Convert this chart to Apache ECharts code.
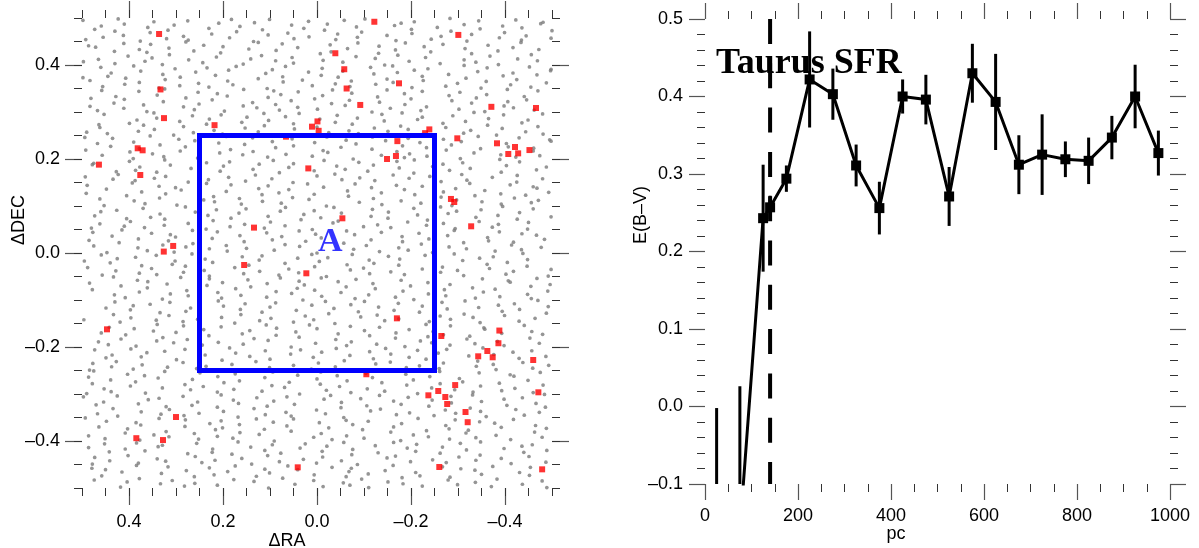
<!DOCTYPE html>
<html>
<head>
<meta charset="utf-8">
<script src="https://cdn.jsdelivr.net/npm/echarts@6/dist/echarts.min.js"></script>
<style>
  html, body { margin: 0; padding: 0; background: #fff; }
  #chart { width: 1199px; height: 548px; }
</style>
</head>
<body>
<div id="chart"></div>
<script>
// Field stars around the cloud: flattened (ΔRA, ΔDEC) pairs, in units of 0.001 deg
const fieldStars = [
  -500,473,-498,457,-481,491,-476,488,-445,462,-436,479,-435,453,-423,496,-399,469,-395,483,-388,458,-347,477,-344,494,-329,465,-319,451,-313,486,-285,472,-283,499,-264,461,-256,480,-243,455,-207,492,-202,467,-201,476,-179,489,-168,452,-165,484,-149,463,-102,498,-95,470,-86,459,-84,481,-58,495,-44,466,-40,454,-22,487,-16,474,17,460,18,493,28,478,49,456,54,485,62,468,101,497,104,464,116,475,133,490,135,450,164,482,171,471,182,497,186,458,209,489,224,466,230,478,274,453,275,494,284,461,304,485,317,474,320,456,347,492,355,469,360,480,376,451,410,487,412,463,423,498,430,472,455,459,459,483,473,476,492,454,498,495,
  362,427,354,444,351,415,329,401,315,436,314,422,279,449,273,411,262,430,243,405,241,442,214,417,205,426,200,439,157,402,145,434,141,413,125,448,118,420,88,409,87,431,74,445,53,416,50,404,41,437,-7,424,-13,410,-28,443,-30,428,-55,406,-65,435,-83,418,-87,447,-124,414,-131,425,-132,440,-144,400,-167,432,-172,421,-188,447,-196,408,-228,439,-231,416,-242,428,-262,403,-268,444,-313,411,-315,435,-329,424,-338,406,-364,442,-368,419,-385,430,-386,401,-417,437,-427,413,-434,448,-456,422,-469,409,-472,433,497,407,486,441,471,438,465,412,431,429,430,403,411,446,402,419,378,433,366,408,
  -226,367,-224,376,-207,389,-202,352,-171,384,-162,363,-161,398,-149,370,-125,359,-121,381,-114,395,-73,366,-70,354,-55,387,-45,374,-39,360,-11,393,-9,378,10,356,18,385,31,368,67,397,72,364,73,375,95,390,106,350,109,382,125,371,172,397,179,358,188,389,190,366,216,378,230,353,234,394,252,361,258,385,291,374,292,356,302,392,323,369,328,380,336,351,375,387,378,363,390,398,407,372,409,359,438,383,445,376,456,354,460,395,483,367,498,373,-498,391,-497,388,-488,362,-468,379,-455,353,-452,396,-425,369,-417,383,-412,358,-396,377,-362,394,-360,365,-349,351,-342,386,-317,372,-313,399,-299,361,-280,380,-274,355,-236,392,
  88,316,80,304,77,337,55,324,41,310,40,343,5,328,-1,306,-12,335,-31,318,-33,347,-60,314,-69,325,-74,340,-117,300,-129,332,-133,321,-149,347,-156,308,-186,339,-187,316,-200,328,-221,303,-224,344,-233,311,-281,335,-287,324,-302,306,-304,342,-329,319,-339,330,-357,301,-361,337,-398,313,-405,348,-406,322,-418,309,-441,333,-446,326,-462,304,-470,345,483,312,481,329,467,303,458,346,432,319,428,333,411,308,410,327,379,344,369,315,362,301,340,336,327,322,324,349,284,311,279,330,261,305,253,342,251,317,223,326,212,339,197,302,191,334,157,313,156,348,137,320,128,309,104,331,92,345,
  48,264,50,275,67,290,72,250,103,282,112,271,113,297,125,258,149,289,153,266,160,278,201,253,204,294,219,261,229,285,235,274,263,256,265,292,284,269,292,280,305,251,341,287,346,263,347,298,369,272,380,259,383,283,399,276,446,254,453,295,462,267,464,273,490,257,-481,253,-480,296,-470,269,-449,283,-444,258,-436,277,-397,294,-394,265,-382,251,-365,286,-363,272,-334,299,-327,261,-316,280,-312,255,-289,292,-274,267,-268,276,-224,289,-223,252,-214,284,-194,263,-181,298,-178,270,-151,259,-143,281,-138,295,-122,266,-88,254,-86,287,-75,274,-68,260,-43,293,-39,278,-25,256,-6,285,0,268,38,297,
  -186,203,-194,244,-197,211,-219,235,-233,224,-234,206,-269,242,-275,219,-286,230,-305,201,-307,237,-334,213,-343,248,-348,222,-391,209,-403,233,-407,226,-423,204,-430,245,-460,217,-461,223,-474,207,-495,241,-498,238,494,246,492,219,467,233,457,208,439,227,435,244,398,215,391,201,390,236,378,222,355,249,350,211,334,230,326,205,294,242,291,217,280,226,260,239,254,202,209,234,207,213,193,248,184,220,158,209,154,231,137,245,136,216,105,204,95,237,88,224,66,210,53,243,50,228,10,206,5,235,-13,218,-21,247,-23,214,-51,225,-62,240,-77,200,-83,232,-117,221,-118,247,-137,208,-146,239,-170,216,-182,228,
  322,163,324,198,341,172,346,159,377,183,386,176,387,154,399,195,423,167,427,173,434,157,475,191,478,188,493,162,-488,183,-480,158,-467,177,-431,194,-426,165,-425,151,-403,186,-392,172,-389,199,-373,161,-326,180,-319,155,-310,192,-308,167,-282,176,-268,189,-264,152,-246,184,-240,163,-207,198,-206,170,-196,159,-175,181,-170,195,-162,166,-123,154,-120,187,-108,174,-91,160,-89,193,-60,178,-53,156,-42,185,-38,168,-15,197,0,164,6,175,50,190,51,150,60,182,80,171,93,197,96,158,123,189,131,166,136,178,152,153,186,194,188,161,199,185,206,174,231,156,235,192,249,169,268,180,274,151,312,187,
  -460,141,-468,138,-471,112,-493,129,491,127,489,144,462,115,453,101,448,136,405,122,393,149,389,111,373,130,366,105,336,142,335,117,322,126,301,139,298,102,289,134,241,113,235,148,220,120,218,109,193,131,183,145,165,116,161,104,124,137,117,124,116,110,104,143,81,128,76,106,60,135,52,118,20,147,17,114,6,125,-14,140,-20,100,-65,132,-67,121,-81,147,-90,108,-116,139,-120,116,-137,128,-138,103,-169,144,-179,111,-186,135,-208,124,-221,106,-224,142,-264,119,-269,130,-287,101,-295,137,-297,113,-325,148,-336,122,-351,109,-357,133,-391,126,-392,104,-411,145,-420,117,-444,123,-456,107,
  -450,65,-448,51,-431,86,-426,72,-395,99,-386,61,-385,80,-373,55,-349,92,-345,67,-338,76,-297,89,-294,52,-279,84,-269,63,-263,98,-235,70,-233,59,-214,81,-206,95,-193,66,-157,54,-152,87,-151,74,-129,60,-118,93,-115,78,-99,56,-52,85,-45,68,-36,97,-34,64,-8,75,6,90,10,50,28,82,34,71,67,97,68,58,78,89,99,66,104,78,112,53,151,94,154,61,166,85,183,74,185,56,214,92,221,69,232,80,236,51,259,87,274,63,280,98,324,72,325,59,334,83,354,76,367,54,370,95,397,67,405,73,410,57,426,91,460,88,462,62,473,79,480,53,-498,77,-460,94,
  312,39,304,2,301,34,279,13,265,48,264,20,229,9,223,31,212,45,193,16,191,4,164,37,155,24,150,10,107,43,95,28,91,6,75,35,68,18,38,47,37,14,24,25,3,40,0,0,-9,32,-57,21,-63,47,-78,8,-80,39,-105,16,-115,28,-133,3,-137,44,-174,11,-181,35,-182,24,-194,6,-217,42,-222,19,-238,30,-246,1,-278,37,-281,13,-292,48,-312,22,-318,9,-363,33,-365,26,-379,4,-388,45,-414,17,-418,23,-435,7,-436,41,-467,38,-477,12,-484,29,485,27,477,44,475,15,447,1,436,36,421,22,415,49,381,11,380,30,361,5,352,42,328,17,316,26,
  -176,-13,-174,-26,-157,-40,-152,-7,-121,-22,-112,-44,-111,-15,-99,-32,-75,-3,-71,-36,-64,-25,-23,-10,-20,-50,-5,-18,5,-29,11,-3,39,-42,41,-11,60,-34,68,-22,81,-47,117,-6,122,-39,123,-15,145,-26,156,-44,159,-8,175,-31,222,-20,229,-49,238,-13,240,-37,266,-2,280,-28,284,-41,302,-17,308,-24,341,-46,342,-5,352,-33,373,-27,378,-43,386,-9,425,-12,428,-38,440,-21,457,-47,459,-4,488,-31,495,-17,-498,-35,-492,-49,-448,-14,-447,-28,-438,-1,-418,-39,-405,-20,-402,-45,-375,-8,-367,-33,-362,-24,-346,-11,-312,-48,-310,-16,-299,-37,-292,-2,-267,-30,-263,-41,-249,-19,-230,-5,-224,-34,-186,-46,
  38,-60,30,-100,27,-68,5,-79,-9,-53,-10,-92,-45,-61,-51,-84,-62,-72,-81,-97,-83,-56,-110,-89,-119,-65,-124,-76,-167,-94,-179,-58,-183,-81,-199,-70,-206,-99,-236,-63,-237,-87,-250,-52,-271,-78,-274,-91,-283,-67,-331,-74,-337,-96,-352,-55,-354,-83,-379,-77,-389,-93,-407,-59,-411,-62,-448,-88,-455,-71,-456,-97,-468,-54,-491,-81,-496,-67,484,-64,478,-78,433,-51,431,-89,417,-70,408,-95,382,-58,378,-83,361,-74,360,-61,329,-98,319,-66,312,-87,290,-52,277,-80,274,-91,234,-69,229,-55,211,-84,203,-96,201,-63,173,-76,162,-90,147,-57,141,-72,107,-94,106,-65,87,-82,78,-53,54,-86,42,-75,
  98,-139,100,-115,117,-126,122,-144,153,-108,162,-131,163,-120,175,-149,199,-113,203,-137,210,-102,251,-128,254,-141,269,-117,279,-124,285,-146,313,-105,315,-133,334,-127,342,-143,355,-109,391,-112,396,-138,397,-121,419,-147,430,-104,433,-131,449,-117,496,-142,-492,-114,-488,-128,-470,-101,-464,-139,-431,-120,-430,-145,-420,-108,-399,-133,-394,-124,-386,-111,-347,-148,-344,-116,-332,-137,-315,-102,-313,-130,-284,-141,-277,-119,-266,-105,-262,-134,-239,-146,-224,-113,-218,-126,-174,-140,-173,-107,-164,-122,-144,-144,-131,-115,-128,-132,-101,-103,-93,-136,-88,-125,-72,-110,-38,-150,-36,-118,-25,-129,-18,-103,7,-142,11,-111,25,-134,44,-122,50,-147,88,-106,
  -236,-178,-244,-191,-247,-167,-269,-174,-283,-196,-284,-155,-319,-183,-325,-177,-336,-193,-355,-159,-357,-162,-384,-188,-393,-171,-398,-197,-441,-154,-453,-181,-457,-167,-473,-192,-480,-173,465,-189,459,-170,444,-195,442,-158,417,-183,407,-174,389,-161,385,-198,348,-166,341,-187,340,-152,328,-180,305,-191,300,-169,284,-155,276,-184,244,-196,241,-163,230,-176,210,-190,204,-157,159,-172,157,-194,143,-165,134,-182,108,-153,104,-186,87,-175,86,-160,55,-200,45,-168,38,-179,16,-153,3,-192,0,-161,-40,-184,-45,-172,-63,-197,-71,-156,-73,-189,-101,-165,-112,-176,-127,-194,-133,-158,-167,-181,-168,-170,-187,-199,-196,-163,-220,-187,-232,-152,
  372,-238,374,-221,391,-247,396,-204,427,-231,436,-217,437,-242,449,-223,473,-206,477,-235,484,-249,-493,-239,-487,-220,-459,-245,-457,-208,-438,-233,-430,-224,-417,-211,-381,-248,-376,-216,-375,-237,-353,-202,-342,-230,-339,-241,-323,-219,-276,-205,-269,-234,-260,-246,-258,-213,-232,-226,-218,-240,-214,-207,-196,-222,-190,-244,-157,-215,-156,-232,-146,-203,-125,-236,-120,-225,-112,-210,-73,-250,-70,-218,-58,-229,-41,-203,-39,-242,-10,-211,-3,-234,8,-222,12,-247,35,-206,50,-239,56,-215,100,-226,101,-244,110,-208,130,-231,143,-220,146,-249,173,-213,181,-237,186,-202,202,-228,236,-241,238,-217,249,-224,256,-246,281,-205,285,-233,299,-227,318,-243,324,-209,362,-212,
  486,-264,478,-278,475,-251,453,-289,439,-270,438,-295,403,-258,397,-283,386,-274,367,-261,365,-298,338,-266,329,-287,324,-252,281,-280,269,-291,265,-269,249,-255,242,-284,212,-296,211,-263,198,-276,177,-290,174,-257,165,-272,117,-294,111,-265,96,-282,94,-253,69,-286,59,-275,41,-260,37,-300,0,-268,-7,-279,-8,-253,-20,-292,-43,-261,-48,-284,-64,-272,-72,-297,-104,-256,-107,-289,-118,-265,-138,-276,-144,-294,-189,-258,-191,-281,-205,-270,-214,-299,-240,-263,-244,-287,-261,-252,-262,-278,-293,-291,-303,-267,-310,-274,-332,-296,-345,-255,-348,-283,-388,-277,-393,-293,-411,-259,-419,-262,-421,-288,-449,-271,-460,-297,-475,-254,-481,-281,490,-299,
  -350,-316,-348,-337,-331,-302,-326,-330,-295,-341,-286,-319,-285,-305,-273,-334,-249,-346,-245,-313,-238,-326,-197,-340,-194,-307,-179,-322,-169,-344,-163,-315,-135,-332,-133,-303,-114,-336,-106,-325,-93,-310,-57,-350,-52,-318,-51,-329,-29,-303,-18,-342,-15,-311,1,-334,48,-322,55,-347,64,-306,66,-339,92,-315,106,-326,110,-344,128,-308,134,-331,167,-320,168,-349,178,-313,199,-337,204,-302,212,-328,251,-341,254,-317,266,-324,283,-346,285,-305,314,-333,321,-327,332,-343,336,-309,359,-312,374,-338,380,-321,424,-347,425,-304,434,-331,454,-317,467,-342,470,-323,497,-306,-486,-328,-484,-301,-473,-339,-466,-320,-441,-345,-437,-308,-423,-333,-404,-324,-398,-311,-360,-348,
  212,-390,204,-357,201,-372,179,-394,165,-365,164,-382,129,-353,123,-386,112,-375,93,-360,91,-400,64,-368,55,-379,50,-353,7,-392,-5,-361,-9,-384,-25,-372,-32,-397,-62,-356,-63,-389,-76,-365,-97,-376,-100,-394,-109,-358,-157,-381,-163,-370,-178,-399,-180,-363,-205,-387,-215,-352,-233,-378,-237,-391,-274,-367,-281,-374,-282,-396,-294,-355,-317,-383,-322,-377,-338,-393,-346,-359,-378,-362,-381,-388,-392,-371,-412,-397,-418,-354,-463,-381,-465,-367,-479,-392,-488,-373,493,-351,486,-389,464,-370,451,-395,448,-358,408,-383,403,-374,385,-361,377,-398,375,-366,347,-387,336,-352,321,-380,315,-391,281,-369,280,-355,261,-384,252,-396,228,-363,216,-376,
  -76,-418,-74,-429,-57,-403,-52,-442,-21,-411,-12,-434,-11,-422,1,-447,25,-406,29,-439,36,-415,77,-426,80,-444,95,-408,105,-431,111,-420,139,-449,141,-413,160,-437,168,-402,181,-428,217,-441,222,-417,223,-424,245,-446,256,-405,259,-433,275,-427,322,-443,329,-409,338,-412,340,-438,366,-421,380,-447,384,-404,402,-431,408,-417,441,-442,442,-423,452,-406,473,-435,478,-449,486,-414,-489,-420,-487,-445,-458,-408,-451,-433,-440,-424,-436,-411,-413,-448,-398,-416,-392,-437,-348,-402,-347,-430,-338,-441,-318,-419,-305,-405,-302,-434,-275,-446,-267,-413,-262,-426,-246,-440,-212,-407,-210,-422,-199,-444,-192,-415,-167,-432,-163,-403,-149,-436,-130,-425,-124,-410,-86,-450,
  -62,-476,-70,-494,-73,-458,-95,-481,-109,-470,-110,-499,-145,-463,-151,-487,-162,-452,-181,-478,-183,-491,-210,-467,-219,-474,-224,-496,-267,-455,-279,-483,-283,-477,-299,-493,-306,-459,-336,-462,-337,-488,-350,-471,-371,-497,-374,-454,-383,-481,-431,-467,-437,-492,-452,-473,-454,-456,-479,-485,-489,-499,479,-458,474,-483,458,-474,450,-461,418,-498,415,-466,404,-487,384,-452,378,-480,333,-491,331,-469,317,-455,308,-484,282,-496,278,-463,261,-476,260,-490,229,-457,219,-472,212,-494,190,-465,177,-482,174,-453,134,-486,129,-475,111,-460,103,-500,101,-468,73,-479,62,-453,47,-492,41,-461,7,-484,6,-472,-13,-497,-32,-456,-56,-489,-68,-465
];

// Reddened stars [ΔRA, ΔDEC] in deg
const redStars = [
  [0.336,0.466],[0.333,0.348],[0.3255,0.287],[0.218,0.272],[0.3815,0.2228],[0.371,0.2185],
  [0.464,0.188],[0.376,0.166],[0.134,0.054],[0.306,0.015],[0.326,0.003],[0.155,-0.0255],
  [0.066,0.2475],[-0.122,0.492],[-0.3007,0.464],[-0.039,0.425],[-0.058,0.391],[-0.063,0.350],
  [-0.1745,0.361],[-0.092,0.315],[-0.371,0.311],[-0.466,0.3085],[-0.001,0.280],[0.0106,0.2688],
  [-0.0035,0.260],[-0.239,0.263],[-0.230,0.255],[-0.2985,0.244],[-0.171,0.238],[-0.168,0.2064],
  [-0.149,0.200],[-0.383,0.2334],[-0.4213,0.2255],[-0.407,0.2106],[-0.428,0.212],[-0.452,0.219],
  [0.0185,0.180],[-0.285,0.115],[-0.292,0.1085],[-0.328,0.0568],[-0.054,0.0738],[0.0227,-0.0432],
  [0.4468,-0.1624],[0.300,-0.349],[0.3844,-0.394],[0.3277,-0.398],[0.041,-0.456],
  [-0.170,-0.139],[-0.2645,-0.1766],[-0.105,-0.258],[-0.388,-0.165],[-0.386,-0.192],
  [-0.3624,-0.2085],[-0.343,-0.2198],[-0.3738,-0.2219],[-0.460,-0.2277],[-0.471,-0.2964],
  [-0.294,-0.281],[-0.258,-0.2936],[-0.237,-0.3028],[-0.273,-0.3064],[-0.277,-0.3213],
  [-0.316,-0.3383],[-0.3206,-0.360],[-0.2602,-0.4553],[-0.479,-0.4603]
];

// Region A outline (deg) and its label anchor
const regionA = [[0.25,-0.25],[0.25,0.25],[-0.25,0.25],[-0.25,-0.25],[0.25,-0.25]];
const regionALabelAt = [-0.028, 0.024];
const offsetMajorTicks = [-0.4, -0.2, 0, 0.2, 0.4];

// Colour excess versus distance
const distPc = [25, 75, 125, 140, 175, 225, 275, 325, 375, 425, 475, 525, 575, 625, 675, 725, 775, 825, 875, 925, 975];
const ebv    = [-0.165, -0.16, 0.243, 0.257, 0.294, 0.422, 0.403, 0.311, 0.256, 0.400, 0.396, 0.271, 0.430, 0.393, 0.312, 0.325, 0.319, 0.317, 0.347, 0.400, 0.327];
const ebvErr = [0.163, 0.186, 0.069, 0.015, 0.017, 0.062, 0.033, 0.027, 0.034, 0.022, 0.032, 0.038, 0.038, 0.062, 0.038, 0.052, 0.023, 0.030, 0.028, 0.041, 0.029];
const taurusDistPc = 140;

const SANS = '"Liberation Sans", Arial, Helvetica, sans-serif';
const SERIF = '"Liberation Serif", "Times New Roman", serif';
const fmt1 = v => (Math.abs(v) < 1e-9 ? '0.0' : v.toFixed(1)).replace('-', '\u2013');

const fieldPairs = [];
for (let i = 0; i < fieldStars.length; i += 2) fieldPairs.push([fieldStars[i] / 1000, fieldStars[i + 1] / 1000]);

const majorTickStyle = { color: '#555', width: 1.2 };
const minorTickStyle = { color: '#333', width: 1 };
const labelStyle = { fontSize: 18, color: '#000', fontFamily: SANS };

// Offset axes of the sky map: a major-tick axis (optionally labelled) plus a minor-tick axis
function skyAxes(pos, labeled, inverse, margin) {
  const base = { gridIndex: 0, type: 'value', position: pos, min: -0.5, max: 0.5, inverse: inverse,
                 axisLine: { show: false, onZero: false }, splitLine: { show: false } };
  const major = Object.assign({}, base, {
    axisTick: { show: true, customValues: offsetMajorTicks, length: 17, lineStyle: majorTickStyle },
    axisLabel: labeled ? Object.assign({ show: true, customValues: offsetMajorTicks, formatter: fmt1, margin: margin }, labelStyle)
                       : { show: false }
  });
  const minor = Object.assign({}, base, {
    interval: 0.05,
    axisTick: { show: true, length: 8, lineStyle: minorTickStyle },
    axisLabel: { show: false }
  });
  return [major, minor];
}

function pcAxis(pos, labeled) {
  return { gridIndex: 1, type: 'value', position: pos, min: 0, max: 1000, interval: 200,
    axisLine: { show: false, onZero: false }, splitLine: { show: false },
    axisTick: { show: true, length: 16, lineStyle: majorTickStyle },
    minorTick: { show: true, splitNumber: 4, length: 8, lineStyle: minorTickStyle },
    axisLabel: labeled ? Object.assign({ show: true, margin: 23, formatter: v => String(v),
                                         showMinLabel: true, showMaxLabel: true }, labelStyle) : { show: false } };
}
function ebvAxis(pos, labeled) {
  return { gridIndex: 1, type: 'value', position: pos, min: -0.1, max: 0.5, interval: 0.1,
    axisLine: { show: false, onZero: false }, splitLine: { show: false },
    axisTick: { show: true, length: 16, lineStyle: majorTickStyle },
    minorTick: { show: true, splitNumber: 5, length: 8, lineStyle: minorTickStyle },
    axisLabel: labeled ? Object.assign({ show: true, margin: 22, formatter: fmt1, showMinLabel: true, showMaxLabel: true }, labelStyle) : { show: false } };
}

const chart = echarts.init(document.getElementById('chart'), null, { renderer: 'canvas' });
chart.setOption({
  animation: false,
  backgroundColor: '#fff',
  grid: [
    { left: 82, top: 18, width: 470, height: 470 },
    { left: 705, top: 19, width: 465, height: 465 }
  ],
  xAxis: [].concat(
    skyAxes('bottom', true, true, 25),   // 0,1
    skyAxes('top', false, true, 0),      // 2,3
    [pcAxis('bottom', true), pcAxis('top', false)]  // 4,5
  ),
  yAxis: [].concat(
    skyAxes('left', true, false, 22),    // 0,1
    skyAxes('right', false, false, 0),   // 2,3
    [ebvAxis('left', true), ebvAxis('right', false)] // 4,5
  ),
  series: [
    { type: 'scatter', xAxisIndex: 0, yAxisIndex: 0, data: fieldPairs, symbol: 'circle', symbolSize: 3.7,
      itemStyle: { color: '#7a7a7a' }, silent: true, z: 2 },
    { type: 'scatter', xAxisIndex: 0, yAxisIndex: 0, data: redStars, symbol: 'rect', symbolSize: 6,
      itemStyle: { color: '#ff0000' }, silent: true, z: 3 },
    { type: 'line', xAxisIndex: 0, yAxisIndex: 0, data: regionA, symbol: 'none',
      lineStyle: { color: '#0000ff', width: 5, join: 'miter', cap: 'square' }, silent: true, z: 4 },
    { type: 'scatter', xAxisIndex: 0, yAxisIndex: 0, data: [regionALabelAt], symbolSize: 1,
      itemStyle: { color: 'rgba(0,0,0,0)' }, silent: true, z: 5,
      label: { show: true, position: 'inside', formatter: 'A', color: '#0000ff', fontSize: 34,
               fontWeight: 'bold', fontFamily: SERIF } },
    { type: 'line', xAxisIndex: 4, yAxisIndex: 4, data: [[taurusDistPc, 0.5], [taurusDistPc, -0.1]], symbol: 'none',
      lineStyle: { color: '#000', width: 4, type: [25, 19.3] }, silent: true, z: 3 },
    { type: 'custom', xAxisIndex: 4, yAxisIndex: 4, clip: true, silent: true, z: 4,
      data: distPc.map((d, i) => [d, ebv[i] - ebvErr[i], ebv[i] + ebvErr[i]]),
      encode: { x: 0, y: [1, 2] },
      renderItem: function (params, api) {
        const lo = api.coord([api.value(0), api.value(1)]);
        const hi = api.coord([api.value(0), api.value(2)]);
        return { type: 'line', shape: { x1: lo[0], y1: lo[1], x2: hi[0], y2: hi[1] },
                 style: { stroke: '#000', lineWidth: 3 } };
      } },
    { type: 'line', xAxisIndex: 4, yAxisIndex: 4, data: distPc.map((d, i) => [d, ebv[i]]),
      symbol: 'rect', symbolSize: 10, clip: true, silent: true, z: 5,
      itemStyle: { color: '#000' }, lineStyle: { color: '#000', width: 3 } }
  ],
  graphic: [
    { type: 'text', x: 19, y: 220, rotation: Math.PI / 2, silent: true,
      style: { text: '\u0394DEC', fontSize: 18, fontFamily: SANS, fill: '#000', align: 'center', verticalAlign: 'middle' } },
    { type: 'text', x: 287, y: 541, silent: true,
      style: { text: '\u0394RA', fontSize: 18, fontFamily: SANS, fill: '#000', align: 'center', verticalAlign: 'middle' } },
    { type: 'text', x: 641, y: 215, rotation: Math.PI / 2, silent: true,
      style: { text: 'E(B\u2013V)', fontSize: 18, fontFamily: SANS, fill: '#000', align: 'center', verticalAlign: 'middle' } },
    { type: 'text', x: 896, y: 534, silent: true,
      style: { text: 'pc', fontSize: 18, fontFamily: SANS, fill: '#000', align: 'center', verticalAlign: 'middle' } },
    { type: 'text', x: 716, y: 64, silent: true, z: 10,
      style: { text: 'Taurus SFR', fontSize: 36, fontWeight: 'bold', fontFamily: SERIF, fill: '#000', align: 'left', verticalAlign: 'middle' } }
  ]
});
</script>
</body>
</html>
